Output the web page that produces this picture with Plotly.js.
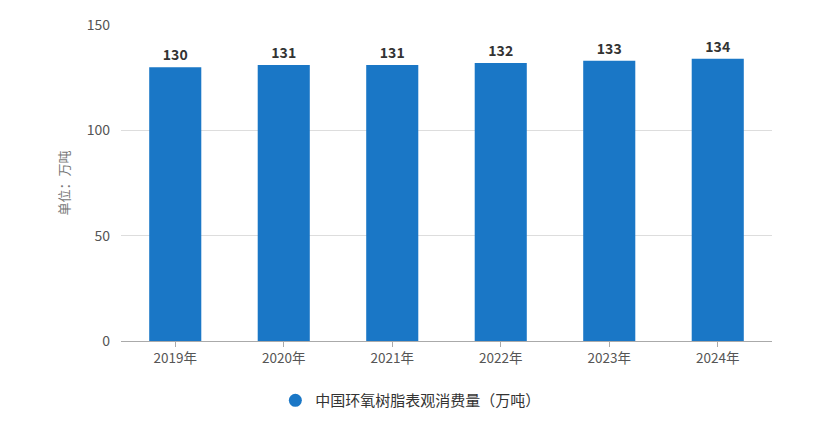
<!DOCTYPE html>
<html>
<head>
<meta charset="utf-8">
<script src="https://cdn.plot.ly/plotly-3.0.1.min.js"></script>
<style>html,body{margin:0;padding:0;background:#fff;}#chart{width:830px;height:428px;}</style>
</head>
<body>
<div id="chart"></div>
<script>
var years = ["2019年","2020年","2021年","2022年","2023年","2024年"];
var consumption = [130,131,131,132,133,134];
var seriesName = "中国环氧树脂表观消费量（万吨）";
var yTitle = "单位：万吨";

var font = "'Microsoft YaHei','Noto Sans CJK SC','Noto Sans',sans-serif";
var barColor = "#1a77c6";
var bar = {
  type: "bar",
  x: years,
  y: consumption,
  name: seriesName,
  showlegend: false,
  marker: {color: barColor},
  text: consumption.map(String),
  textposition: "outside",
  cliponaxis: false,
  textfont: {family: font, size: 14, color: "#333333", weight: "bold"},
  hoverinfo: "x+y"
};
// legend entry with a round marker (drawn on a hidden axis so no points appear)
var legendEntry = {
  type: "scatter",
  mode: "markers",
  x: years,
  y: consumption,
  yaxis: "y2",
  name: seriesName,
  marker: {color: barColor, size: 13, symbol: "circle"},
  hoverinfo: "skip"
};
var layout = {
  width: 830, height: 428,
  margin: {l: 121, r: 58, t: 25, b: 87},
  paper_bgcolor: "#ffffff",
  plot_bgcolor: "#ffffff",
  bargap: 0.52,
  showlegend: true,
  legend: {orientation: "h", x: 0.495, xanchor: "center", xref: "container",
           y: 0.064, yanchor: "middle", yref: "container",
           font: {family: font, size: 15, color: "#333333"}},
  xaxis: {
    showline: true, linecolor: "#aaaaaa", linewidth: 1,
    ticks: "outside", tickcolor: "#aaaaaa", ticklen: 5,
    tickfont: {family: font, size: 13.5, color: "#555555"},
    showgrid: false
  },
  yaxis: {
    range: [0, 150], tickvals: [0, 50, 100, 150],
    showgrid: true, gridcolor: "#dddddd", zeroline: false,
    showline: false,
    tickfont: {family: font, size: 14, color: "#555555"},
    ticklabelstandoff: 10,
    title: {text: yTitle, font: {family: font, size: 13, color: "#777777"}, standoff: 14}
  },
  yaxis2: {overlaying: "y", range: [1000, 2000], visible: false},
  font: {family: font}
};
Plotly.newPlot("chart", [bar, legendEntry], layout, {displayModeBar: false, staticPlot: true});
</script>
</body>
</html>
